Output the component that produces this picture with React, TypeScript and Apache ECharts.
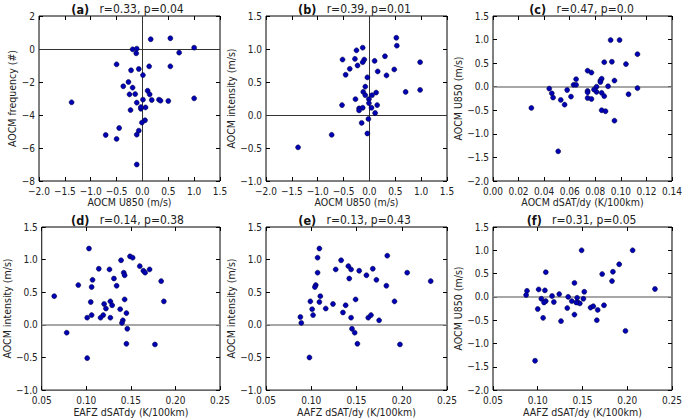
import React, { useEffect, useRef } from "react";
import * as echarts from "echarts";

// ---- Data ----
const aX = [0.16, 0.54, 1.0, 0.71, -0.19, -0.11, -0.12, -0.5, -0.22, -0.07, 0.13, 0.54, 0.01, -0.27, -0.37, -0.19, -0.25, -0.14, 0.1, 0.14, 0.18, 0.32, 0.35, 0.5, 1.0, 0.01, -1.37, -0.11, 0.06, -0.03, -0.03, -0.23, 0.05, -0.01, -0.07, -0.11, -0.45, -0.71, -0.5, -0.11];
const aY = [0.59, 0.65, 0.08, -0.22, -0.02, 0.02, -0.26, -0.93, -1.29, -1.21, -1.05, -1.05, -1.58, -2.0, -2.26, -2.34, -2.75, -2.73, -2.53, -2.75, -3.09, -3.07, -3.13, -3.15, -2.99, -3.07, -3.23, -3.25, -3.54, -3.62, -3.52, -3.7, -4.32, -4.46, -4.95, -5.19, -4.79, -5.21, -5.45, -7.0];

const bX = [0.52, 0.53, -0.13, -0.25, -0.52, -0.28, -0.1, -0.13, -0.23, 0.3, 0.1, 0.98, -0.38, -0.46, 0.16, 0.48, 0.33, -0.04, -0.08, -0.12, -0.08, 0.13, 0.05, 0.7, 0.98, -0.27, -0.01, -0.01, -0.53, 0.15, -0.2, -0.13, -0.2, 0.04, 0.11, -0.15, -0.02, -0.04, -0.73, -1.38];
const bY = [1.17, 1.05, 1.02, 0.98, 0.84, 0.85, 0.84, 0.8, 0.75, 0.89, 0.82, 0.8, 0.7, 0.61, 0.66, 0.69, 0.6, 0.57, 0.43, 0.35, 0.3, 0.34, 0.3, 0.35, 0.38, 0.24, 0.24, 0.18, 0.15, 0.15, 0.1, 0.11, 0.07, 0.11, 0.03, -0.12, -0.06, -0.28, -0.3, -0.49];

const cX = [0.092, 0.099, 0.113, 0.093, 0.104, 0.087, 0.077, 0.074, 0.084, 0.085, 0.084, 0.065, 0.063, 0.065, 0.095, 0.081, 0.09, 0.113, 0.044, 0.046, 0.047, 0.058, 0.061, 0.053, 0.056, 0.074, 0.074, 0.081, 0.085, 0.087, 0.074, 0.077, 0.079, 0.106, 0.085, 0.088, 0.095, 0.03, 0.051];
const cY = [0.99, 0.99, 0.69, 0.53, 0.48, 0.52, 0.3, 0.34, 0.13, 0.17, 0.1, 0.16, 0.04, 0.04, 0.13, 0.0, 0.01, -0.03, -0.04, -0.14, -0.23, -0.07, -0.21, -0.28, -0.38, -0.09, -0.12, -0.11, -0.13, -0.2, -0.24, -0.26, -0.06, -0.16, -0.5, -0.52, -0.72, -0.45, -1.37];

const dX = [0.103, 0.149, 0.152, 0.139, 0.114, 0.126, 0.16, 0.164, 0.166, 0.171, 0.142, 0.143, 0.131, 0.107, 0.091, 0.106, 0.134, 0.184, 0.064, 0.105, 0.127, 0.129, 0.12, 0.143, 0.187, 0.122, 0.138, 0.145, 0.106, 0.119, 0.116, 0.101, 0.127, 0.141, 0.14, 0.078, 0.146, 0.145, 0.177, 0.101];
const dY = [1.17, 1.05, 1.03, 0.99, 0.86, 0.85, 0.9, 0.83, 0.8, 0.85, 0.8, 0.76, 0.71, 0.69, 0.61, 0.58, 0.6, 0.67, 0.44, 0.35, 0.36, 0.3, 0.32, 0.39, 0.36, 0.25, 0.24, 0.18, 0.15, 0.15, 0.11, 0.11, 0.11, 0.07, 0.03, -0.12, -0.06, -0.29, -0.3, -0.51];

const eX = [0.109, 0.107, 0.133, 0.184, 0.141, 0.127, 0.144, 0.153, 0.168, 0.107, 0.206, 0.161, 0.142, 0.172, 0.105, 0.104, 0.183, 0.232, 0.11, 0.099, 0.109, 0.124, 0.138, 0.149, 0.192, 0.116, 0.135, 0.101, 0.102, 0.144, 0.163, 0.166, 0.175, 0.088, 0.089, 0.145, 0.148, 0.151, 0.198, 0.098];
const eY = [1.17, 1.03, 0.99, 1.06, 0.9, 0.85, 0.85, 0.83, 0.86, 0.8, 0.8, 0.76, 0.71, 0.69, 0.61, 0.58, 0.6, 0.67, 0.44, 0.36, 0.35, 0.32, 0.3, 0.39, 0.36, 0.25, 0.19, 0.24, 0.15, 0.11, 0.11, 0.15, 0.07, 0.12, 0.03, -0.06, -0.12, -0.29, -0.3, -0.5];

const fX = [0.149, 0.206, 0.191, 0.172, 0.184, 0.183, 0.109, 0.141, 0.231, 0.088, 0.101, 0.108, 0.087, 0.124, 0.116, 0.134, 0.152, 0.104, 0.109, 0.118, 0.107, 0.138, 0.144, 0.145, 0.147, 0.143, 0.151, 0.1, 0.133, 0.159, 0.162, 0.174, 0.167, 0.106, 0.141, 0.126, 0.166, 0.198, 0.097];
const fY = [1.0, 1.0, 0.7, 0.49, 0.54, 0.34, 0.53, 0.3, 0.17, 0.13, 0.16, 0.14, 0.04, 0.06, 0.02, 0.0, 0.11, -0.04, -0.09, -0.11, -0.12, -0.09, -0.02, -0.12, -0.14, -0.12, -0.04, -0.26, -0.24, -0.23, -0.2, -0.18, -0.28, -0.45, -0.38, -0.52, -0.5, -0.73, -1.37];

const panelLetters = ["(a)", "(b)", "(c)", "(d)", "(e)", "(f)"];
const panelStats = ["r=0.33, p=0.04", "r=0.39, p=0.01", "r=0.47, p=0.0", "r=0.14, p=0.38", "r=0.13, p=0.43", "r=0.31, p=0.05"];
const xNames = ["AOCM U850 (m/s)", "AOCM U850 (m/s)", "AOCM dSAT/dy (K/100km)", "EAFZ dSATdy (K/100km)", "AAFZ dSAT/dy (K/100km)", "AAFZ dSAT/dy (K/100km)"];
const yNames = ["AOCM frequency (#)", "AOCM intensity (m/s)", "AOCM U850 (m/s)", "AOCM intensity (m/s)", "AOCM intensity (m/s)", "AOCM U850 (m/s)"];
// axis ranges: [min, max, interval, decimals]
const xRanges = [[-2, 1.5, 0.5, 1], [-2, 1.5, 0.5, 1], [0, 0.14, 0.02, 2], [0.05, 0.25, 0.05, 2], [0.05, 0.25, 0.05, 2], [0.05, 0.25, 0.05, 2]];
const yRanges = [[-8, 2, 2, 0], [-1, 1.5, 0.5, 1], [-2, 1.5, 0.5, 1], [-1, 1.5, 0.5, 1], [-1, 1.5, 0.5, 1], [-2, 1.5, 0.5, 1]];

const xs = [aX, bX, cX, dX, eX, fX];
const ysData = [aY, bY, cY, dY, eY, fY];

// ---- Layout ----
const FONT = "'DejaVu Sans Condensed', 'DejaVu Sans', sans-serif";
const colLeft = [39, 266, 493];
const rowTop = [16, 227];
const plotW = 181;
const rowH = [165, 164];
const yNameGaps = [22, 28, 28, 28, 28, 28];

function fmt(dec: number) {
  return (v: number) => {
    const s = Math.abs(v) < 1e-9 ? (0).toFixed(dec) : v.toFixed(dec);
    return s.replace("-", "\u2212");
  };
}

export default function App() {
  const ref = useRef<HTMLDivElement>(null);
  useEffect(() => {
    if (!ref.current) return;
    const chart = echarts.init(ref.current, undefined, { renderer: "svg" });
    const grids: any[] = [];
    const xAxes: any[] = [];
    const yAxes: any[] = [];
    const series: any[] = [];
    const titles: any[] = [];
    for (let i = 0; i < 6; i++) {
      const col = i % 3;
      const row = Math.floor(i / 3);
      const left = colLeft[col];
      const top = rowTop[row];
      const h = rowH[row];
      grids.push({
        left, top, width: plotW, height: h,
        show: true, borderColor: "#000", borderWidth: 1, backgroundColor: "transparent",
        containLabel: false,
      });
      const [xmin, xmax, xint, xdec] = xRanges[i];
      const [ymin, ymax, yint, ydec] = yRanges[i];
      const tick = { show: true, inside: true, length: 4, lineStyle: { color: "#000", width: 1 } };
      const noLine = { show: false, onZero: false };
      xAxes.push({
        type: "value", gridIndex: i, position: "bottom", min: xmin, max: xmax, interval: xint,
        axisLine: noLine, splitLine: { show: false }, axisTick: tick,
        axisLabel: { show: true, margin: 5, fontSize: 10, color: "#222", fontFamily: FONT, formatter: fmt(xdec), showMinLabel: true, showMaxLabel: true },
        name: xNames[i], nameLocation: "middle", nameGap: row === 0 ? 15 : 14,
        nameTextStyle: { fontSize: 10.5, color: "#222", fontFamily: FONT },
      });
      xAxes.push({
        type: "value", gridIndex: i, position: "top", min: xmin, max: xmax, interval: xint,
        axisLine: noLine, splitLine: { show: false }, axisTick: tick, axisLabel: { show: false },
      });
      yAxes.push({
        type: "value", gridIndex: i, position: "left", min: ymin, max: ymax, interval: yint,
        axisLine: noLine, splitLine: { show: false }, axisTick: tick,
        axisLabel: { show: true, margin: 4, fontSize: 10, color: "#222", fontFamily: FONT, formatter: fmt(ydec), showMinLabel: true, showMaxLabel: true },
        name: yNames[i], nameLocation: "middle", nameGap: yNameGaps[i], nameRotate: 90,
        nameTextStyle: { fontSize: 10.5, color: "#222", fontFamily: FONT },
      });
      yAxes.push({
        type: "value", gridIndex: i, position: "right", min: ymin, max: ymax, interval: yint,
        axisLine: noLine, splitLine: { show: false }, axisTick: tick, axisLabel: { show: false },
      });
      const xv = xs[i];
      const yv = ysData[i];
      const data = xv.map((x, k) => [x, yv[k]]);
      const lineData: any[] = [{ yAxis: 0 }];
      if (i < 2) lineData.push({ xAxis: 0 });
      series.push({
        type: "scatter", xAxisIndex: i * 2, yAxisIndex: i * 2, data,
        symbolSize: 5, z: 3,
        itemStyle: { color: "#0000b4", borderColor: "#000033", borderWidth: 0.5, opacity: 1 },
        markLine: {
          silent: true, symbol: "none", z: 1, animation: false,
          label: { show: false },
          lineStyle: i < 2 ? { color: "#333", width: 1, type: "solid" } : { color: "#8a8a8a", width: 1.6, type: "solid" },
          data: lineData,
        },
      });
      titles.push({
        text: `{b|${panelLetters[i]}}  {n|${panelStats[i]}}`,
        left: left + plotW / 2 - 2,
        top: row === 0 ? 0 : 211,
        textAlign: "center",
        padding: 0,
        textStyle: {
          fontFamily: FONT,
          fontWeight: "normal",
          rich: {
            b: { fontSize: 12.5, fontWeight: "bold", color: "#111", fontFamily: FONT },
            n: { fontSize: 12, fontWeight: "normal", color: "#222", fontFamily: FONT },
          },
        },
      });
    }
    chart.setOption({
      animation: false,
      backgroundColor: "#fff",
      title: titles,
      grid: grids,
      xAxis: xAxes,
      yAxis: yAxes,
      series,
    });
    return () => chart.dispose();
  }, []);
  return <div ref={ref} style={{ position: "absolute", left: 0, top: 0, width: 685, height: 418 }} />;
}
